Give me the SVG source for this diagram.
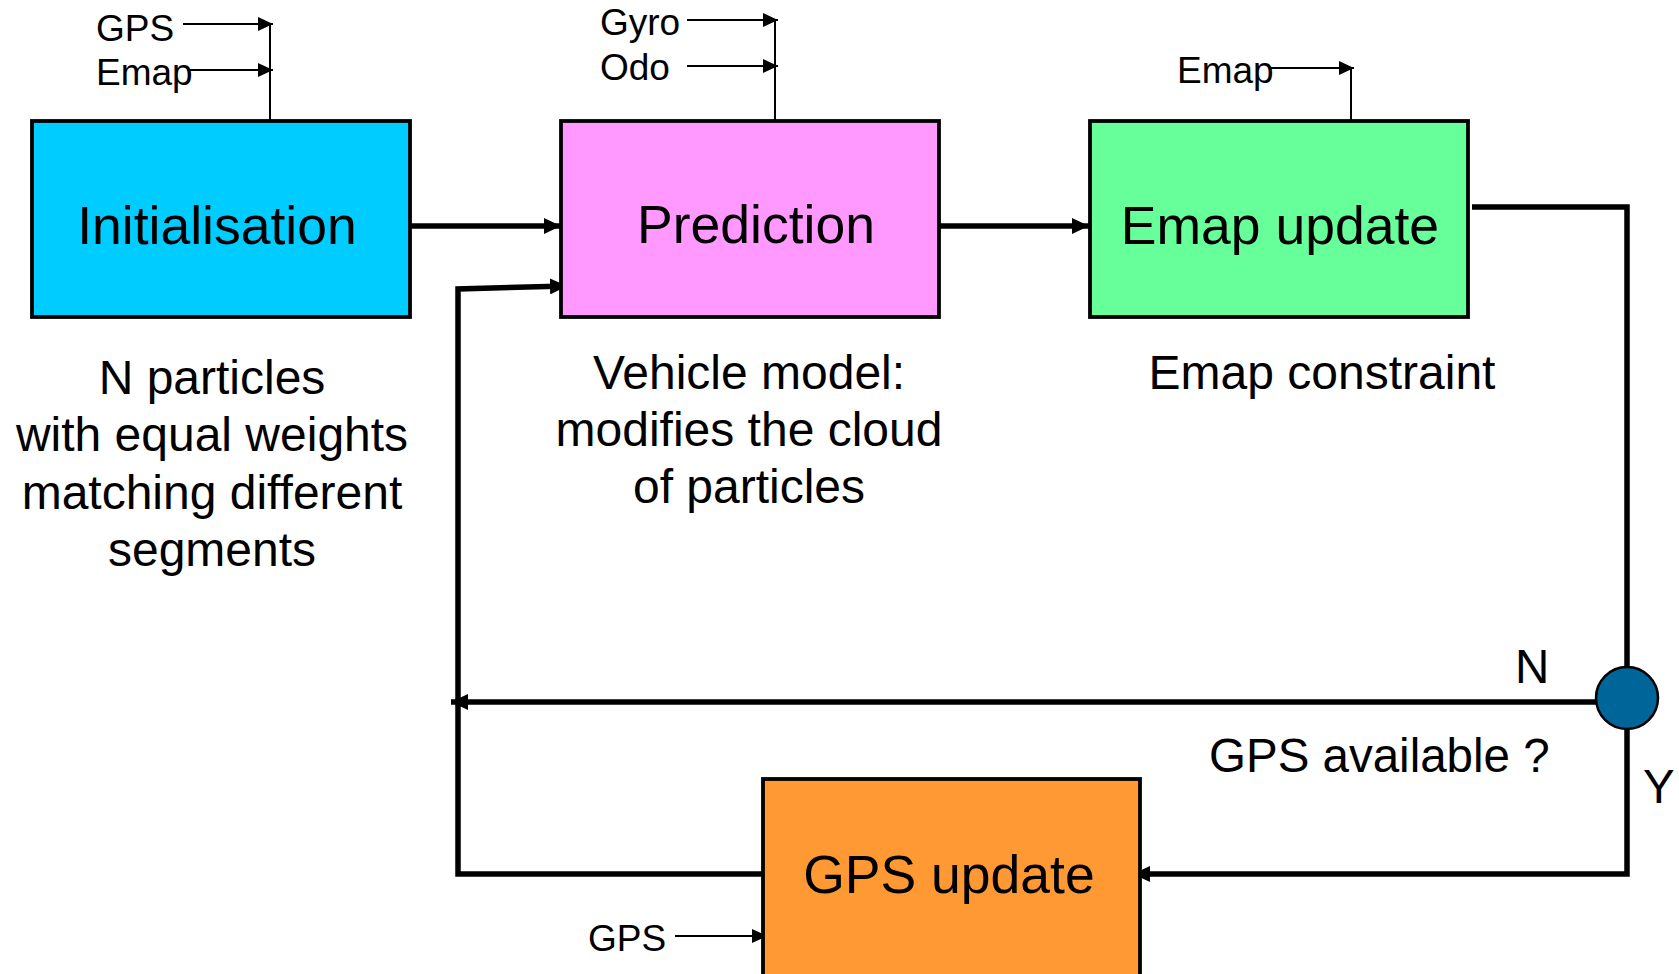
<svg xmlns="http://www.w3.org/2000/svg" width="1679" height="974" viewBox="0 0 1679 974">
<style>
text { font-family: "Liberation Sans", Arial, sans-serif; fill: #000; }
.box { stroke: #000; stroke-width: 3.8; }
.big { font-size: 53.5px; text-anchor: middle; }
.note { font-size: 48px; text-anchor: middle; }
.lab { font-size: 47.5px; }
.small { font-size: 37px; }
.thick { fill: none; stroke: #000; stroke-width: 5.5; stroke-linejoin: miter; }
.thin { fill: none; stroke: #000; stroke-width: 2; }
</style>
<defs>
<marker id="ahThick" markerUnits="userSpaceOnUse" viewBox="0 0 17 16" markerWidth="17" markerHeight="16" refX="17" refY="8" orient="auto">
<path d="M0,0 L17,8 L0,16 z" fill="#000"/>
</marker>
<marker id="ahThin" markerUnits="userSpaceOnUse" viewBox="0 0 15 14" markerWidth="15" markerHeight="14" refX="15" refY="7" orient="auto">
<path d="M0,0 L15,7 L0,14 z" fill="#000"/>
</marker>
</defs>
<rect width="1679" height="974" fill="#fff"/>

<g id="connectors">
<line class="thick" x1="410" y1="226" x2="561" y2="226" marker-end="url(#ahThick)"/>
<line class="thick" x1="939" y1="226" x2="1089" y2="226" marker-end="url(#ahThick)"/>
<polyline class="thick" points="1472,207 1627,207 1627,667"/>
<line class="thick" x1="1604" y1="702" x2="451" y2="702" marker-end="url(#ahThick)"/>
<polyline class="thick" points="763,874 458,874 458,289 567,286" marker-end="url(#ahThick)"/>
<polyline class="thick" points="1627,729 1627,874 1133,874" marker-end="url(#ahThick)"/>
<line class="thin" x1="183" y1="24" x2="273" y2="24" marker-end="url(#ahThin)"/>
<line class="thin" x1="187" y1="70" x2="273" y2="70" marker-end="url(#ahThin)"/>
<line class="thin" x1="270" y1="24" x2="270" y2="121"/>
<line class="thin" x1="687" y1="20" x2="778" y2="20" marker-end="url(#ahThin)"/>
<line class="thin" x1="687" y1="66" x2="778" y2="66" marker-end="url(#ahThin)"/>
<line class="thin" x1="775" y1="20" x2="775" y2="121"/>
<line class="thin" x1="1271" y1="68" x2="1354" y2="68" marker-end="url(#ahThin)"/>
<line class="thin" x1="1351" y1="68" x2="1351" y2="121"/>
<line class="thin" x1="675" y1="936" x2="767" y2="936" marker-end="url(#ahThin)"/>
</g>

<g id="init">
<rect class="box" x="32" y="121" width="378" height="196" fill="#00CCFF"/>
<text class="big" x="217" y="244">Initialisation</text>
<text class="small" x="96" y="41">GPS</text>
<text class="small" x="96" y="85">Emap</text>
<text class="note" x="212" y="394">N particles</text>
<text class="note" x="212" y="451">with equal weights</text>
<text class="note" x="212" y="509">matching different</text>
<text class="note" x="212" y="566">segments</text>
</g>

<g id="prediction">
<rect class="box" x="561" y="121" width="378" height="196" fill="#FF99FF"/>
<text class="big" x="756" y="243">Prediction</text>
<text class="small" x="600" y="35">Gyro</text>
<text class="small" x="600" y="80">Odo</text>
<text class="note" x="749" y="389">Vehicle model:</text>
<text class="note" x="749" y="446">modifies the cloud</text>
<text class="note" x="749" y="503">of particles</text>
</g>

<g id="emap">
<rect class="box" x="1090" y="121" width="378" height="196" fill="#66FF99"/>
<text class="big" x="1280" y="244">Emap update</text>
<text class="small" x="1177" y="83">Emap</text>
<text class="note" x="1322" y="389">Emap constraint</text>
</g>

<g id="decision">
<circle cx="1627" cy="698" r="31" fill="#006699" stroke="#000" stroke-width="2.5"/>
<text class="lab" x="1515" y="683">N</text>
<text class="lab" x="1643" y="803">Y</text>
<text class="lab" x="1209" y="772">GPS available ?</text>
</g>

<g id="gpsupdate">
<rect class="box" x="763" y="779" width="377" height="230" fill="#FF9933"/>
<text class="big" x="949" y="893">GPS update</text>
<text class="small" x="588" y="951">GPS</text>
</g>
</svg>
